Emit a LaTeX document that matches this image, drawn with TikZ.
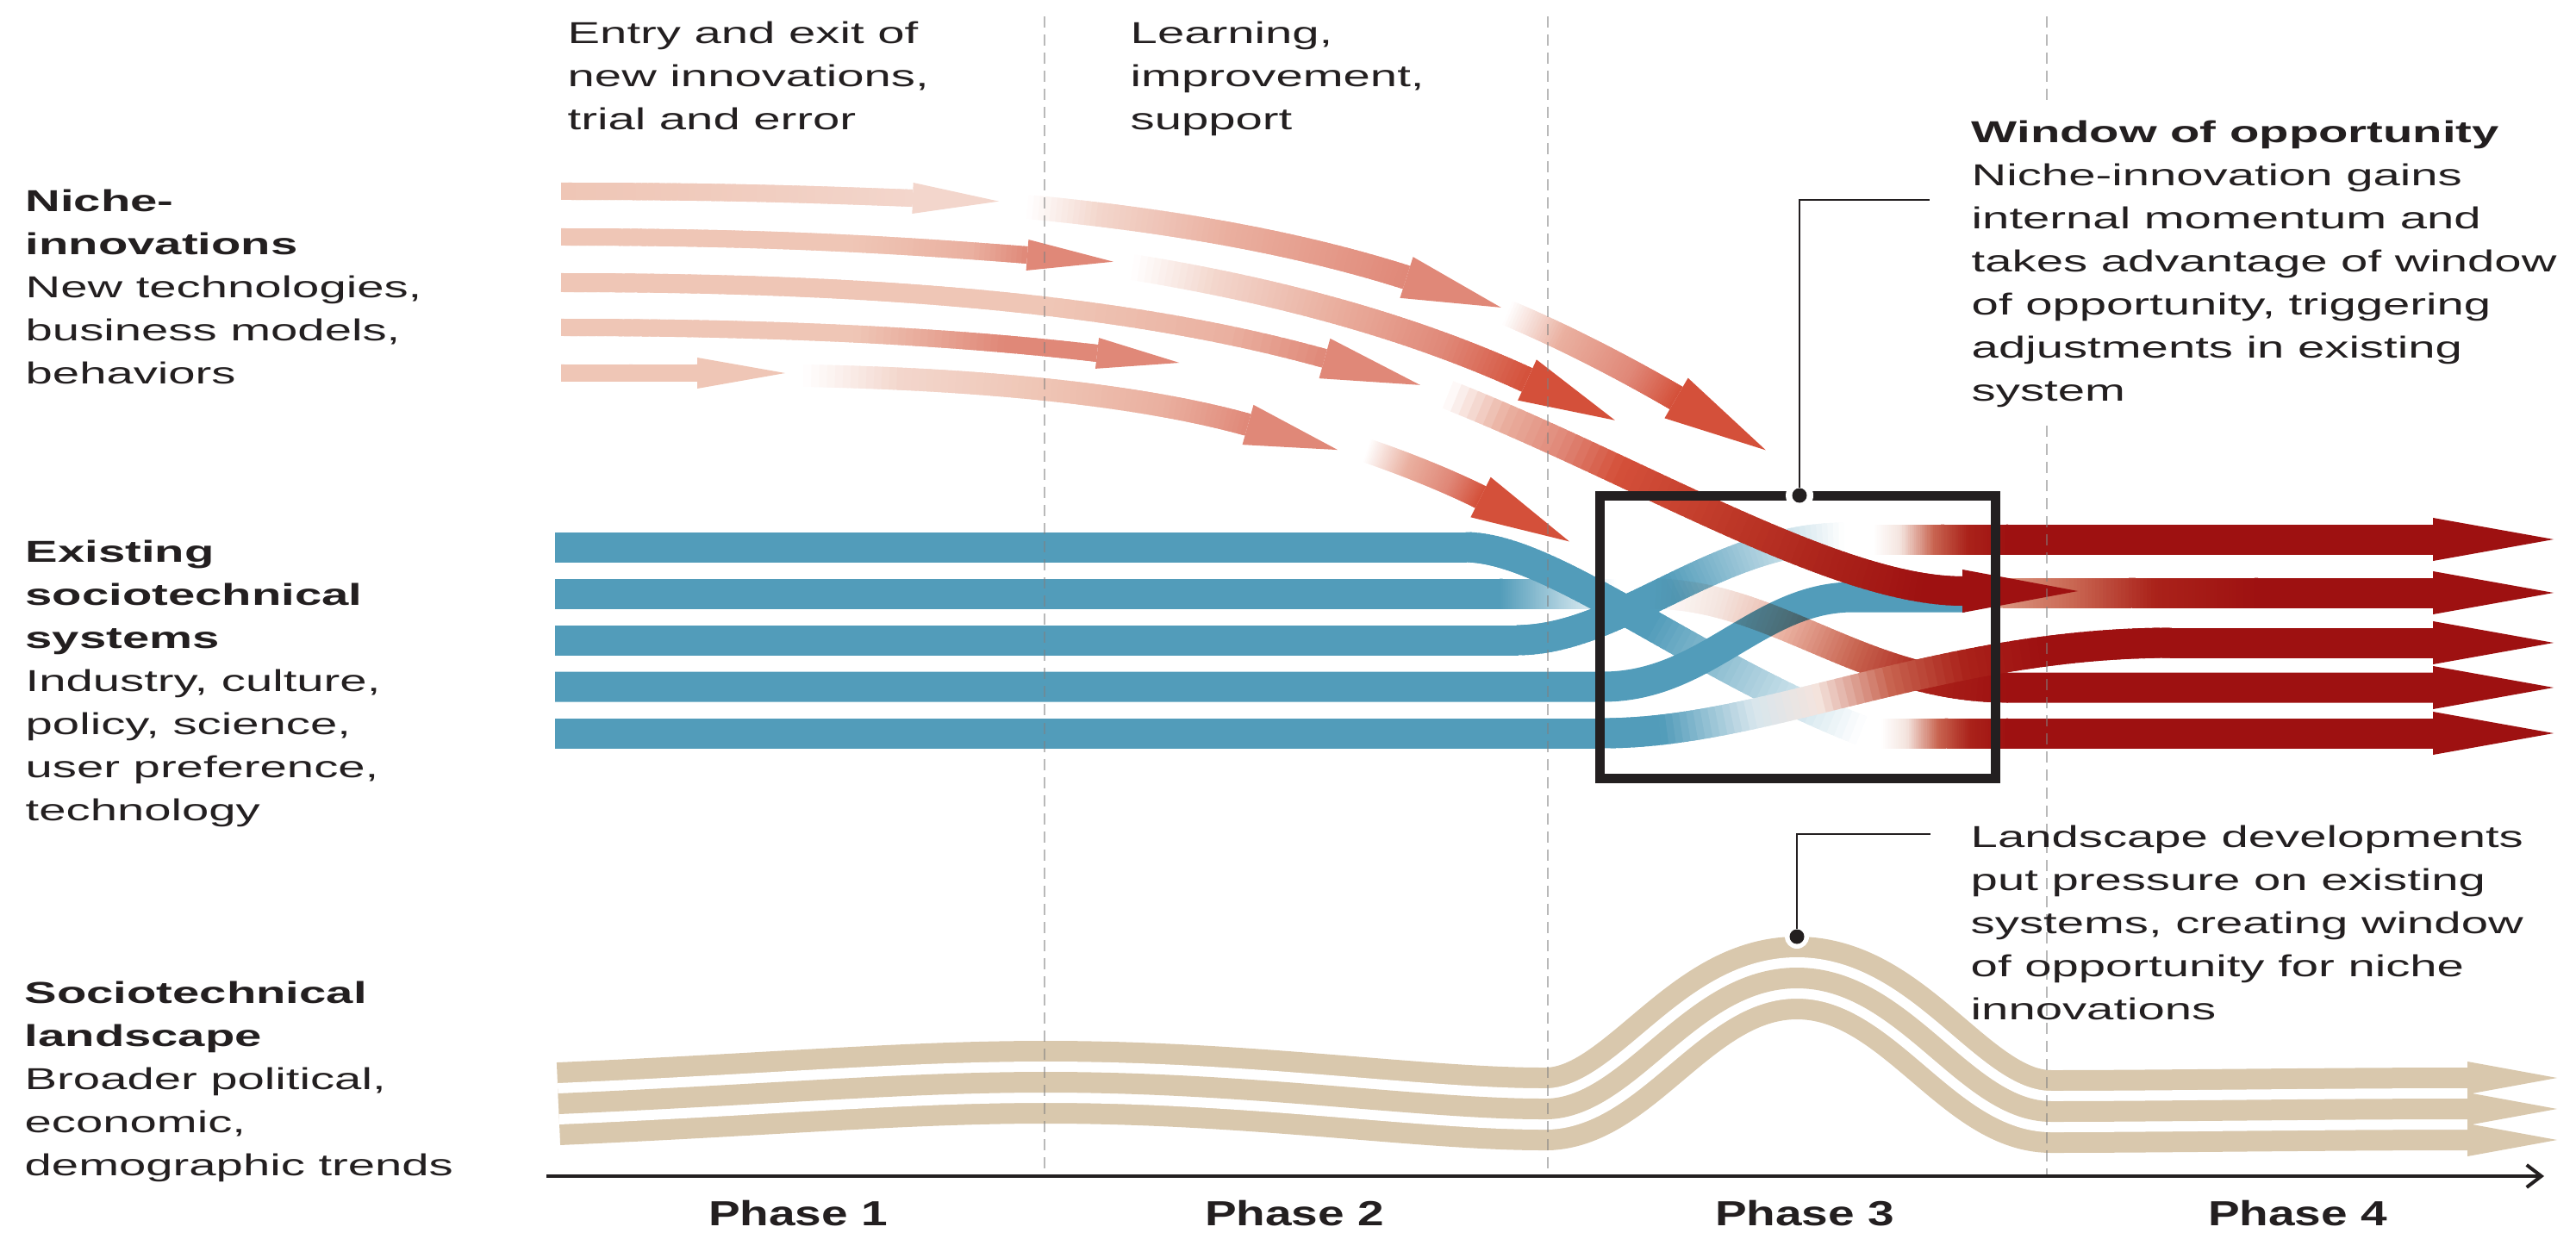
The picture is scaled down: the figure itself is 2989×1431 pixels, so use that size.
\documentclass[tikz,border=0pt]{standalone}
\usepackage{fontspec}
\setmainfont{Liberation Sans}[FakeStretch=1.6]
\newfontfamily\phasefont{Liberation Sans}[FakeStretch=1.36]
\usetikzlibrary{calc,arrows.meta}

\definecolor{ink}{RGB}{35,31,32}
\definecolor{stblue}{RGB}{82,156,186}
\definecolor{bfade}{RGB}{215,230,237}
\definecolor{sand}{RGB}{217,200,173}
\definecolor{dred}{RGB}{158,17,17}
\definecolor{pk0}{RGB}{243,214,204}
\definecolor{pk1}{RGB}{239,198,182}
\definecolor{pkw}{RGB}{244,228,222}
\definecolor{pk2}{RGB}{234,176,160}
\definecolor{pk3}{RGB}{224,136,120}
\definecolor{or1}{RGB}{212,80,58}
\definecolor{rd1}{RGB}{190,56,40}
\definecolor{rd2}{RGB}{170,34,26}
\definecolor{br0}{RGB}{218,150,128}
\definecolor{br1}{RGB}{200,100,80}
\definecolor{phgray}{RGB}{128,128,128}

\newdimen\pxu \pxu=0.01cm

\makeatletter
\newcommand\setgc[2]{%
  \gdef\gc@pt{0}\gdef\gc@pc{white}\gdef\gc@found{0}%
  \foreach \gc@st/\gc@sc in {#2}{%
    \ifnum\gc@found=0\relax
      \pgfmathtruncatemacro\gc@ok{(#1>\gc@st)?0:1}%
      \ifnum\gc@ok=1\relax
        \pgfmathsetmacro\gc@d{\gc@st-\gc@pt}%
        \pgfmathsetmacro\gc@pct{(\gc@d<0.00001)?100:min(100,max(0,100*(#1-\gc@pt)/max(\gc@d,0.00001)))}%
        \edef\gc@expr{\gc@sc!\gc@pct!\gc@pc}%
        \xglobal\colorlet{gc}{\gc@expr}%
        \gdef\gc@found{1}%
      \fi
      \xdef\gc@pt{\gc@st}\xdef\gc@pc{\gc@sc}%
    \fi
  }%
}
\makeatother

% gradient stroke along a cubic curve: P0, P1, P2, P3, width(px), stops
\newcommand\gstroke[6]{%
  \foreach \gi in {0,...,69}{%
    \pgfmathsetmacro\gta{\gi/70}%
    \pgfmathsetmacro\gtb{min(1,(\gi+1.8)/70)}%
    \pgfmathsetmacro\gtm{(\gi+0.5)/70}%
    \setgc{\gtm}{#6}%
    \path (#1) .. controls (#2) and (#3) .. (#4) coordinate[pos=\gta] (ga) coordinate[pos=\gtb] (gb);
    \draw[line width=#5\pxu, draw=gc] (ga) -- (gb);
  }%
}
% arrow head: point before end, end (base centre), length px, half width px, colour
\newcommand\ahead[5]{%
  \pgfmathsetmacro\ahL{#3/100}\pgfmathsetmacro\ahH{#4/100}%
  \fill[#5] ($(#2)!\ahH cm!90:(#1)$) -- ($(#2)!-\ahL cm!(#1)$) -- ($(#2)!\ahH cm!-90:(#1)$) -- cycle;%
}

\tikzset{
  txt/.style={anchor=north west, inner sep=0pt, align=left, text=ink,
    font=\fontsize{10}{14.2}\selectfont},
  phaselbl/.style={anchor=base, inner sep=0pt, text=ink,
    font=\phasefont\bfseries\fontsize{11.5}{14}\selectfont},
  bluebar/.style={line width=35\pxu, draw=stblue},
  redbar/.style={line width=35\pxu, draw=dred},
  phase/.style={line width=2.5\pxu, draw=phgray, opacity=0.55, dash pattern=on 0.13cm off 0.08cm},
  leader/.style={line width=2.5\pxu, draw=ink},
  dot/.style={circle, fill=ink, inner sep=0pt, minimum size=17\pxu},
}

\begin{document}
\begin{tikzpicture}[x=0.01cm, y=-0.01cm, line cap=butt]
\useasboundingbox (0,0) rectangle (2989,1431);

% ---------- niche-innovation arrows ----------
\gstroke{651,222}{850,222}{950,226}{1059,230}{20}{0/pk1,1/pk0}
\ahead{950,226}{1059,230}{100}{18}{pk0}
\gstroke{1192,240}{1350,255}{1500,280}{1632,322}{28}{0/white,0.18/pk0,0.5/pk2,1/pk3}
\ahead{1500,280}{1632,322}{115}{25}{pk3}
\gstroke{1749,363}{1820,393}{1890,430}{1945,462}{30}{0/white,0.3/pk2,0.7/pk3,1/or1}
\ahead{1890,430}{1945,462}{120}{27}{or1}

\gstroke{651,275}{900,275}{1050,285}{1192,296}{20}{0/pk1,0.55/pk1,0.85/pk2,1/pk3}
\ahead{1050,285}{1192,296}{100}{18}{pk3}
\gstroke{1314,310}{1500,340}{1650,385}{1772,441}{30}{0/white,0.18/pk0,0.45/pk2,0.75/pk3,1/or1}
\ahead{1650,385}{1772,441}{112}{26}{or1}

\gstroke{651,328}{1000,328}{1300,350}{1537,416}{22}{0/pk1,0.6/pk1,0.85/pk2,1/pk3}
\ahead{1300,350}{1537,416}{115}{24}{pk3}

\gstroke{651,380}{900,380}{1100,390}{1273,410}{20}{0/pk1,0.5/pk1,0.8/pk3,1/pk3}
\ahead{1100,390}{1273,410}{96}{18}{pk3}

\gstroke{651,433}{700,433}{760,433}{809,433}{20}{0/pk1,1/pk1}
\ahead{760,433}{809,433}{102}{18}{pk1}
\gstroke{932,436}{1150,440}{1330,460}{1448,493}{26}{0/white,0.18/pk0,0.45/pk1,0.75/pk2,1/pk3}
\ahead{1330,460}{1448,493}{108}{24}{pk3}
\gstroke{1586,523}{1630,538}{1680,558}{1718,577}{28}{0/white,0.35/pk2,0.7/pk3,1/or1}
\ahead{1680,558}{1718,577}{115}{26}{or1}

% ---------- existing sociotechnical systems (blue) ----------
\draw[bluebar] (644,689) -- (1742,689);
\gstroke{1740,689}{1785,689}{1830,689}{1875,689}{35}{0/stblue,1/white}
\draw[bluebar] (644,635) -- (1702,635);
\gstroke{1700,635}{1800,635}{1960,770}{2160,848}{35}{0/stblue,0.55/stblue,1/white}
\draw[bluebar] (644,743) -- (1762,743);
\gstroke{1760,743}{1880,743}{1990,624}{2140,624}{35}{0/stblue,0.5/stblue,1/white}
\draw[bluebar] (644,797) -- (1860,797) .. controls (1980,797) and (2040,693) .. (2150,693) -- (2280,693);

% niche path taking position 4 (multiplied over the blue)
\begin{scope}[blend mode=multiply]
\begin{scope}[transparency group]
\gstroke{1915,689}{2060,689}{2160,798}{2330,798}{35}{0/white,0.2/pkw,0.4/pk2,0.6/br1,0.8/rd2,1/dred}
\draw[redbar] (2328,798) -- (2823,798);
\end{scope}
\end{scope}

\draw[bluebar] (644,851) -- (1862,851);
\gstroke{1860,851}{2050,851}{2250,746}{2520,746}{35}{0/stblue,0.12/stblue,0.3/bfade,0.42/pkw,0.55/br1,0.68/rd2,0.8/dred,1/dred}
\draw[redbar] (2518,746) -- (2823,746);

% new regime bars
\gstroke{2174,626}{2226,626}{2278,626}{2330,626}{35}{0/white,0.2/pkw,0.45/br1,0.7/rd2,1/dred}
\draw[redbar] (2328,626) -- (2823,626);
\gstroke{2183,851}{2232,851}{2281,851}{2330,851}{35}{0/white,0.2/pkw,0.45/br1,0.7/rd2,1/dred}
\draw[redbar] (2328,851) -- (2823,851);
\gstroke{2320,688}{2420,688}{2520,688}{2620,688}{35}{0/br0,0.3/br1,0.6/rd2,1/dred}
\draw[redbar] (2618,688) -- (2823,688);
\foreach \yy in {626,688,746,798,851}{\ahead{2700,\yy}{2823,\yy}{140}{25}{dred}}

% big niche arrow entering the regime
\gstroke{1680,458}{1900,545}{2130,686}{2277,686}{34}{0/white,0.1/pk2,0.2/pk3,0.3/or1,0.5/rd1,0.7/rd2,0.9/dred,1/dred}
\ahead{2130,686}{2277,686}{134}{25}{dred}

% ---------- sociotechnical landscape ----------
\def\landpath{(648,1281) .. controls (900,1270) and (1050,1256) .. (1214,1256) .. controls (1450,1256) and (1650,1287) .. (1790,1287) .. controls (1890,1290) and (1960,1135) .. (2085,1135) .. controls (2210,1135) and (2280,1290) .. (2380,1290) .. controls (2500,1290) and (2700,1287) .. (2863,1287)}
\draw[sand, line width=96\pxu] \landpath;
\draw[white, line width=48\pxu] \landpath;
\draw[sand, line width=24\pxu] \landpath;
\foreach \yy in {1251,1287,1323}{\ahead{2800,\yy}{2863,\yy}{104}{19}{sand}}

% ---------- window of opportunity box ----------
\draw[ink, line width=11\pxu] (1856,575) rectangle (2315,903);
\fill[white] (2088,575) circle[radius=0.16cm];
\node[dot] (wdot) at (2088,575) {};

% ---------- phase lines and axis ----------
\draw[phase] (1212,19) -- (1212,1363);
\draw[phase] (1796,19) -- (1796,1363);
\draw[phase] (2375,19) -- (2375,123);
\draw[phase] (2375,494) -- (2375,1363);
\coordinate (ax0) at (634,1365);
\coordinate (ax1) at (2952,1365);
\draw[ink, line width=4\pxu, -{Straight Barb[length=0.17cm,width=0.26cm]}] (ax0) -- (ax1);

% ---------- leaders ----------
\coordinate (wlead) at (2239,232);
\draw[leader] (wdot) |- (wlead);
\fill[white] (2085,1087) circle[radius=0.14cm];
\node[dot] (ldot) at (2085,1087) {};
\coordinate (llead) at (2240,968);
\draw[leader] (ldot) |- (llead);

% ---------- texts ----------
\node[txt] (entry) at (658,15) {\strut Entry and exit of\\new innovations,\\trial and error};
\node[txt] (learning) at (1311,15) {\strut Learning,\\improvement,\\support};
\node[txt] (niche) at (29,210) {\strut{\bfseries Niche-}\\{\bfseries innovations}\\New technologies,\\business models,\\behaviors};
\node[txt] (existing) at (29,617) {\strut{\bfseries Existing}\\{\bfseries sociotechnical}\\{\bfseries systems}\\Industry, culture,\\policy, science,\\user preference,\\technology};
\node[txt] (landscape) at (28,1129) {\strut{\bfseries Sociotechnical}\\{\bfseries landscape}\\Broader political,\\economic,\\demographic trends};
\node[txt] (window) at (2287,130) {\strut{\bfseries Window of opportunity}\\Niche-innovation gains\\internal momentum and\\takes advantage of window\\of opportunity, triggering\\adjustments in existing\\system};
\node[txt] (landdev) at (2286,948) {\strut Landscape developments\\put pressure on existing\\systems, creating window\\of opportunity for niche\\innovations};
\node[phaselbl] (ph1) at (926,1422) {Phase 1};
\node[phaselbl] (ph2) at (1502,1422) {Phase 2};
\node[phaselbl] (ph3) at (2094,1422) {Phase 3};
\node[phaselbl] (ph4) at (2666,1422) {Phase 4};
\end{tikzpicture}
\end{document}
